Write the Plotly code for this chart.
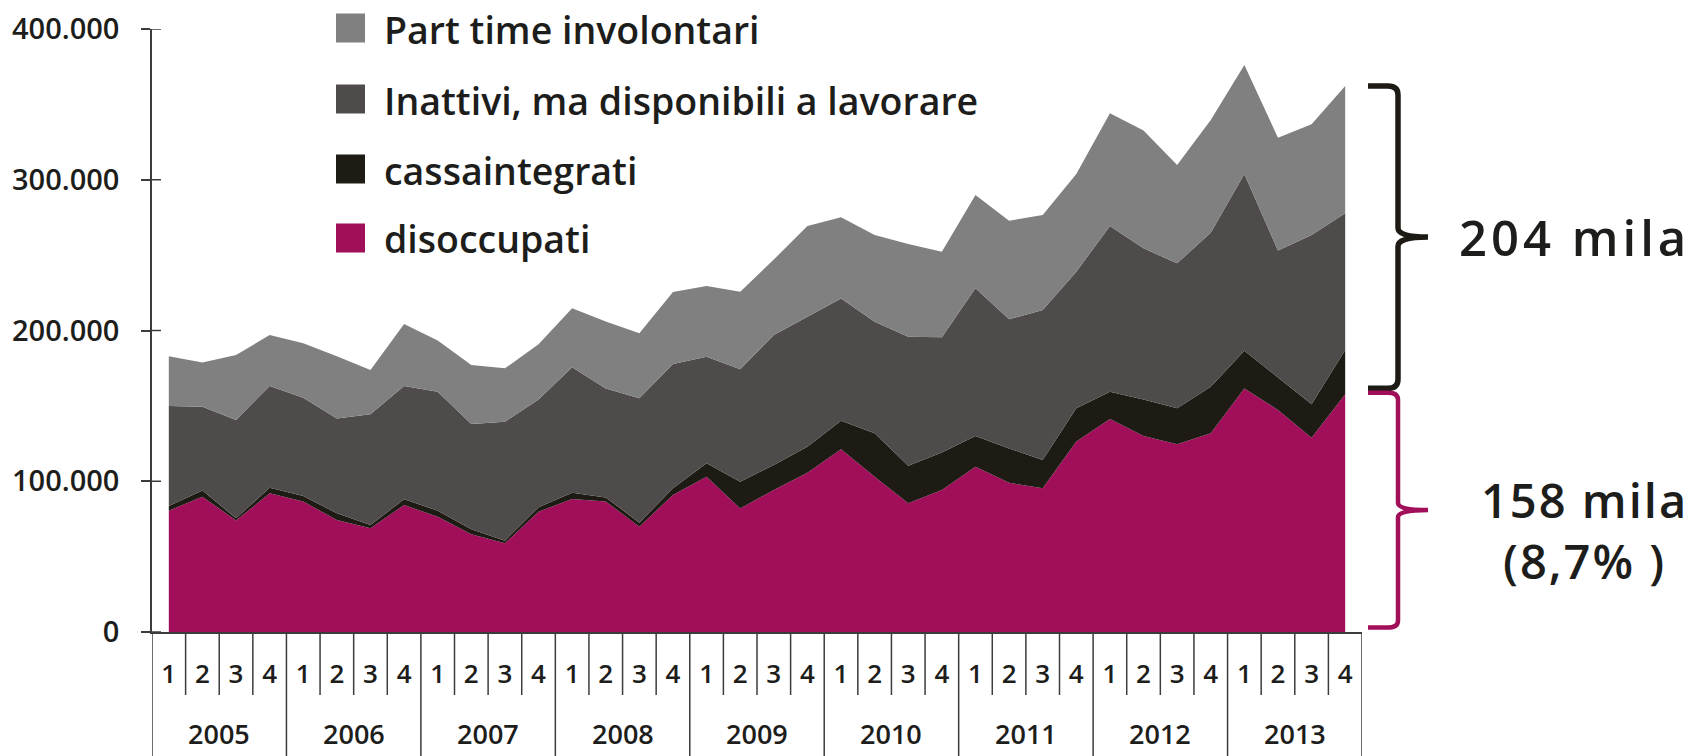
import plotly.graph_objects as go

# Quarterly series, thousands of people
years = ['2005', '2006', '2007', '2008', '2009', '2010', '2011', '2012', '2013']
quarters = ['1', '2', '3', '4']

disoccupati = [80.5, 89.8, 73.9, 92.0, 86.5, 74.3, 68.8, 84.2, 76.5, 64.8, 58.8, 79.8,
               88.2, 86.5, 69.9, 90.9, 103.0, 82.0, 94.2, 105.7, 121.2, 103.0, 85.4, 94.2,
               109.7, 99.0, 95.3, 126.3, 141.3, 130.0, 124.5, 131.8, 161.6, 147.3, 128.9, 157.7]
cassaintegrati = [3.1, 4.0, 1.5, 3.7, 3.7, 4.4, 2.2, 3.8, 4.0, 3.3, 1.8, 2.9,
                  4.2, 2.8, 2.6, 4.4, 8.9, 17.7, 16.6, 17.2, 19.0, 28.8, 24.9, 24.8,
                  20.3, 22.8, 18.8, 22.1, 18.1, 24.3, 23.9, 30.9, 25.0, 21.6, 22.1, 29.3]
inattivi = [66.3, 55.7, 65.2, 67.5, 65.2, 63.0, 73.4, 75.2, 78.9, 69.9, 78.9, 71.6,
            83.2, 72.3, 82.5, 82.5, 70.7, 74.6, 86.2, 86.3, 81.1, 74.0, 85.6, 76.5,
            98.0, 85.6, 99.5, 90.6, 109.9, 100.2, 96.2, 102.2, 117.2, 84.1, 112.3, 90.7]
part_time = [33.1, 29.2, 43.1, 33.8, 36.1, 41.3, 29.4, 41.1, 33.9, 39.1, 35.4, 36.5,
             39.1, 44.3, 43.1, 47.7, 46.9, 51.4, 50.1, 60.1, 53.8, 57.5, 61.5, 56.8,
             61.9, 65.4, 63.0, 64.8, 74.8, 78.1, 65.2, 74.7, 72.3, 74.9, 73.5, 84.5]

y_tick_vals = [0, 100, 200, 300, 400]
y_tick_text = ['0', '100.000', '200.000', '300.000', '400.000']

series = [
    ('disoccupati', disoccupati, '#A10E59'),
    ('cassaintegrati', cassaintegrati, '#1D1B13'),
    ('Inattivi, ma disponibili a lavorare', inattivi, '#4F4B4B'),
    ('Part time involontari', part_time, '#808080'),
]

FONT = 'Open Sans'
INK = '#1D1D1B'
AXIS = '#3C3C3C'

# page body has an 8px margin, so the figure is a bit smaller than the window
OFF = 8
W, H = 1700 - OFF, 756 - OFF
L, R, T, B = 144, 338, 21, 124
PW, PH = W - L - R, H - T - B


def px_x(px):
    """screen pixel x -> paper x"""
    return (px - OFF - L) / PW


def px_y(py):
    """screen pixel y -> paper y"""
    return (H - B - (py - OFF)) / PH


def font(size):
    return dict(family=FONT, size=size, color=INK, weight=600)


n = len(disoccupati)
x = list(range(n))

fig = go.Figure()
for name, vals, color in series:
    fig.add_trace(go.Scatter(
        x=x, y=vals, name=name, mode='none',
        stackgroup='one', fillcolor=color,
        line=dict(width=0), showlegend=False,
    ))

shapes = []
annotations = []

# crossing y ticks (inner half)
for v in y_tick_vals:
    shapes.append(dict(type='line', xref='paper', yref='y', x0=0, x1=9 / PW,
                       y0=v, y1=v, line=dict(color=AXIS, width=1.5)))

# category table dividers
for i in range(n + 1):
    is_year = i % 4 == 0
    shapes.append(dict(type='line', xref='x', yref='paper', x0=i - 0.5, x1=i - 0.5,
                       y0=0, y1=px_y(757) if is_year else px_y(695),
                       line=dict(color=AXIS, width=1.5)))

for k, yr in enumerate(years):
    annotations.append(dict(x=4 * k + 1.5, y=px_y(733), xref='x', yref='paper',
                            text=yr, showarrow=False, xanchor='center', yanchor='middle',
                            font=font(27)))

# legend drawn as squares + text
legend_rows = [(28, 3), (99, 2), (169, 1), (238, 0)]
for cy, idx in legend_rows:
    name, _, color = series[idx]
    shapes.append(dict(type='rect', xref='paper', yref='paper',
                       x0=px_x(336), x1=px_x(365), y0=px_y(cy + 14.5), y1=px_y(cy - 14.5),
                       fillcolor=color, line=dict(width=0)))
    annotations.append(dict(x=px_x(382), y=px_y(cy + 1), xref='paper', yref='paper',
                            text=name, showarrow=False, xanchor='left', yanchor='middle',
                            font=font(37.5)))


def brace(y_top, y_bot, color, width):
    xl, xv, xp = px_x(1368), px_x(1398), px_x(1428)
    rx = 10 / PW
    ry = (y_top - y_bot) * 0.03
    ym = (y_top + y_bot) / 2
    path = (f'M {xl},{y_top} L {xv - rx},{y_top} Q {xv},{y_top} {xv},{y_top - ry} '
            f'L {xv},{ym + ry} Q {xv},{ym} {xp},{ym} Q {xv},{ym} {xv},{ym - ry} '
            f'L {xv},{y_bot + ry} Q {xv},{y_bot} {xv - rx},{y_bot} L {xl},{y_bot}')
    shapes.append(dict(type='path', xref='paper', yref='y', path=path,
                       line=dict(color=color, width=width)))
    return ym


total_last = disoccupati[-1] + cassaintegrati[-1] + inattivi[-1] + part_time[-1]
ym_black = brace(total_last, disoccupati[-1] + 4, '#1D1B13', 5.5)
ym_red = brace(disoccupati[-1] + 1, 3, '#A10E59', 4.5)

annotations.append(dict(x=px_x(1574), y=ym_black, xref='paper', yref='y',
                        text='<span style="letter-spacing:4px">204 mila</span>',
                        showarrow=False, xanchor='center', yanchor='middle', font=font(49)))
spaced = '<span style="letter-spacing:2px">{}</span>'
annotations.append(dict(x=px_x(1584), y=px_y(530), xref='paper', yref='paper',
                        text=spaced.format('158 mila') + '<br>' + spaced.format('(8,7% )'),
                        showarrow=False, xanchor='center', yanchor='middle',
                        font=font(47)))

fig.update_layout(
    width=W, height=H,
    margin=dict(l=L, r=R, t=T, b=B, autoexpand=False),
    plot_bgcolor='white', paper_bgcolor='white',
    font=dict(family=FONT, color=INK),
    shapes=shapes, annotations=annotations,
    xaxis=dict(range=[-0.5, n - 0.5], tickvals=x, ticktext=quarters * len(years),
               showline=True, linecolor=AXIS, linewidth=1.5, ticks='',
               showgrid=False, zeroline=False, ticklabelstandoff=18,
               tickfont=font(26)),
    yaxis=dict(range=[0, 400], tickvals=y_tick_vals, ticktext=y_tick_text,
               showline=True, linecolor=AXIS, linewidth=1.5,
               ticks='outside', ticklen=9, tickwidth=1.5, tickcolor=AXIS,
               showgrid=False, zeroline=False, ticklabelstandoff=16,
               tickfont=font(29)),
)

fig.write_html('out.html')
